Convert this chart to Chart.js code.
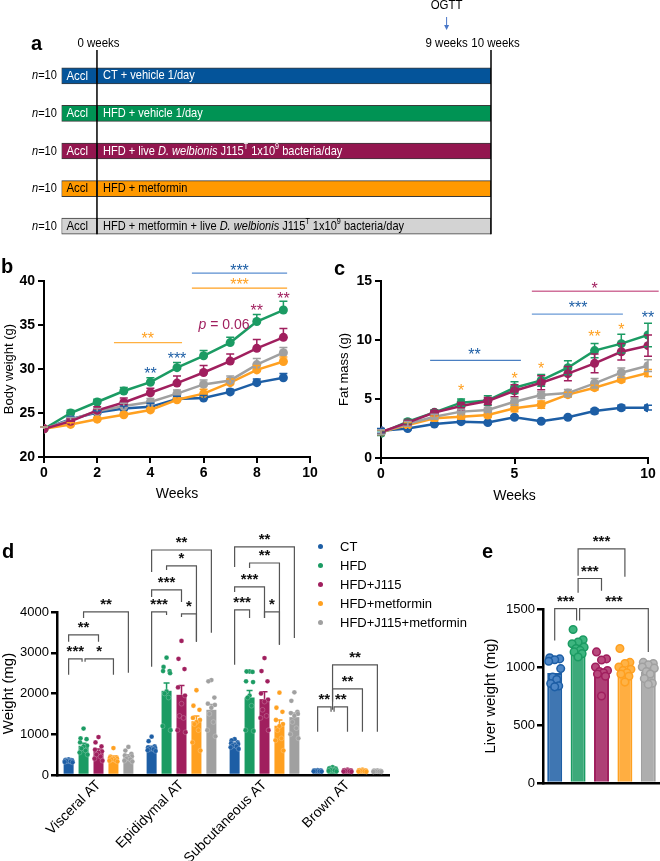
<!DOCTYPE html>
<html>
<head>
<meta charset="utf-8">
<script src="https://cdn.jsdelivr.net/npm/chart.js@4.4.1/dist/chart.umd.min.js"></script>
<style>
  body { margin:0; background:#fff; width:660px; height:861px; position:relative; overflow:hidden; font-family:'Liberation Sans', Arial, sans-serif; }
  canvas { position:absolute; }
  .plbl { position:absolute; font-weight:bold; font-size:20px; line-height:20px; }
  #legend { position:absolute; left:318px; top:537px; font-size:13px; }
  #legend div { height:19px; line-height:19px; white-space:nowrap; }
  #legend span { display:inline-block; width:5px; height:5px; border-radius:50%; margin-right:17px; vertical-align:middle; position:relative; top:-1px; }
</style>
</head>
<body>
<canvas id="chartA" width="660" height="245" style="left:0;top:0"></canvas>
<canvas id="chartB" width="330" height="260" style="left:0;top:250px"></canvas>
<canvas id="chartC" width="330" height="260" style="left:330px;top:250px"></canvas>
<canvas id="chartD" width="400" height="341" style="left:0;top:520px"></canvas>
<canvas id="chartE" width="180" height="341" style="left:480px;top:520px"></canvas>
<div class="plbl" style="left:31px;top:33px">a</div>
<div class="plbl" style="left:1px;top:256px">b</div>
<div class="plbl" style="left:334px;top:258px">c</div>
<div class="plbl" style="left:2px;top:541px">d</div>
<div class="plbl" style="left:482px;top:541px">e</div>
<div id="legend"></div>
<script>
// Data
// ========================================================================
var groups = ['CT', 'HFD', 'HFD+J115', 'HFD+metformin', 'HFD+J115+metformin'];

// panel a: study timeline (weeks)
var acclPeriod = [-0.9, 0];
var treatPeriod = [0, 10];
var ogttWeek = 9;
var rowText = [
  [['CT + vehicle 1/day', '']],
  [['HFD + vehicle 1/day', '']],
  [['HFD + live ', ''], ['D. welbionis', 'i'], [' J115', ''], ['T', 's'], [' 1x10', ''], ['9', 's'], [' bacteria/day', '']],
  [['HFD + metformin', '']],
  [['HFD + metformin + live ', ''], ['D. welbionis', 'i'], [' J115', ''], ['T', 's'], [' 1x10', ''], ['9', 's'], [' bacteria/day', '']]
];

// panel b: body weight (g)
var weeksBW = [0, 1, 2, 3, 4, 5, 6, 7, 8, 9];
var bwCT   = [23.2, 24.3, 25.05, 25.5, 25.7, 26.6, 26.7, 27.4, 28.45, 29.0];
var bwHFD  = [23.2, 25.0, 26.25, 27.5, 28.5, 30.15, 31.5, 33.0, 35.4, 36.7];
var bwJ115 = [23.2, 24.05, 25.3, 26.2, 27.3, 28.4, 29.6, 30.9, 32.35, 33.6];
var bwMet  = [23.2, 23.7, 24.3, 24.8, 25.35, 26.5, 27.2, 28.45, 29.9, 30.85];
var bwMix  = [23.2, 24.2, 25.2, 25.8, 26.25, 27.2, 28.25, 28.7, 30.5, 31.85];
var bwSemCT   = [0.2, 0.3, 0.2, 0.3, 0.4, 0.3, 0.3, 0.3, 0.4, 0.5];
var bwSemHFD  = [0.2, 0.3, 0.3, 0.4, 0.5, 0.6, 0.6, 0.6, 0.8, 1.0];
var bwSemJ115 = [0.2, 0.3, 0.4, 0.5, 0.5, 0.8, 0.8, 0.8, 1.0, 1.0];
var bwSemMet  = [0.2, 0.2, 0.2, 0.2, 0.2, 0.2, 0.5, 0.4, 0.5, 0.5];
var bwSemMix  = [0.2, 0.3, 0.3, 0.3, 0.4, 0.4, 0.5, 0.5, 0.7, 0.6];

// panel c: fat mass (g)
var weeksFM = [0, 1, 2, 3, 4, 5, 6, 7, 8, 9, 10];
var fmCT   = [2.3, 2.5, 2.88, 3.08, 3.0, 3.45, 3.11, 3.45, 3.98, 4.26, 4.26];
var fmHFD  = [2.1, 3.08, 3.87, 4.69, 4.88, 5.96, 6.58, 7.65, 9.1, 9.69, 10.42];
var fmJ115 = [2.2, 3.0, 3.85, 4.4, 4.83, 5.7, 6.38, 7.15, 8.02, 9.0, 9.52];
var fmMet  = [2.2, 2.8, 3.36, 3.5, 3.64, 4.21, 4.52, 5.37, 5.96, 6.64, 7.2];
var fmMix  = [2.2, 2.9, 3.5, 3.93, 4.07, 4.77, 5.34, 5.5, 6.33, 7.23, 7.82];
var fmSemCT   = [0.2, 0.1, 0.1, 0.1, 0.1, 0.1, 0.1, 0.1, 0.2, 0.2, 0.2];
var fmSemHFD  = [0.2, 0.2, 0.2, 0.3, 0.4, 0.5, 0.5, 0.6, 0.6, 0.8, 1.0];
var fmSemJ115 = [0.2, 0.2, 0.2, 0.3, 0.3, 0.5, 0.6, 0.6, 0.8, 0.7, 0.9];
var fmSemMet  = [0.2, 0.2, 0.2, 0.2, 0.2, 0.3, 0.3, 0.2, 0.2, 0.2, 0.3];
var fmSemMix  = [0.2, 0.2, 0.2, 0.2, 0.2, 0.3, 0.3, 0.3, 0.4, 0.4, 0.5];

// panel d: adipose tissue weight (mg)
var tissues = ['Visceral AT', 'Epididymal AT', 'Subcutaneous AT', 'Brown AT'];
var atCT   = [350, 670, 760, 100];
var atHFD  = [718, 2066, 1902, 130];
var atJ115 = [580, 1968, 1862, 105];
var atMet  = [430, 1320, 1210, 100];
var atMix  = [456, 1600, 1420, 95];
var atSemCT   = [10, 35, 25, 5];
var atSemHFD  = [60, 190, 170, 10];
var atSemJ115 = [55, 230, 180, 6];
var atSemMet  = [35, 130, 140, 6];
var atSemMix  = [40, 130, 100, 5];
var atPtsCT = [
  [380, 370, 365, 355, 350, 345, 340, 330, 320, 310],
  [940, 830, 700, 680, 660, 650, 640, 630, 610, 590],
  [880, 850, 800, 780, 760, 740, 720, 700, 680, 640],
  [120, 115, 110, 105, 100, 100, 95, 90, 90, 85]];
var atPtsHFD = [
  [1140, 900, 880, 800, 720, 700, 650, 600, 550, 500],
  [2880, 2650, 2550, 2550, 2500, 2050, 2000, 1900, 1200, 1100],
  [2540, 2540, 2530, 2300, 2280, 1950, 1900, 1700, 1100, 1080],
  [190, 170, 160, 150, 140, 130, 120, 110, 100, 90]];
var atPtsJ115 = [
  [930, 800, 700, 620, 580, 550, 500, 450, 400, 350],
  [3290, 2850, 2600, 2150, 1950, 1750, 1450, 1400, 1100, 1050],
  [2870, 2550, 2300, 2000, 1850, 1800, 1600, 1450, 1400, 1100],
  [130, 120, 115, 110, 105, 100, 95, 90, 85, 80]];
var atPtsMet = [
  [660, 450, 430, 420, 400, 400, 380, 360, 350, 330],
  [2080, 1700, 1600, 1400, 1350, 1300, 1250, 1100, 800, 600],
  [2020, 1650, 1550, 1350, 1250, 1200, 1100, 900, 850, 600],
  [130, 120, 115, 110, 100, 100, 95, 90, 85, 80]];
var atPtsMix = [
  [690, 600, 520, 480, 460, 430, 400, 380, 350, 330],
  [2330, 2300, 1900, 1750, 1720, 1650, 1500, 1300, 1100, 950],
  [2030, 1820, 1550, 1520, 1500, 1450, 1300, 1150, 1000, 900],
  [110, 105, 100, 100, 95, 90, 90, 85, 80, 80]];

// panel e: liver weight (mg)
var liverMean = [948, 1165, 985, 985, 960];
var liverCT   = [1080, 1070, 1063, 1050, 986, 914, 892, 858, 837, 829];
var liverHFD  = [1323, 1235, 1215, 1200, 1171, 1160, 1143, 1130, 1115, 1086];
var liverJ115 = [1130, 1070, 1060, 1000, 970, 960, 950, 940, 920, 750];
var liverMet  = [1160, 1040, 1030, 1000, 980, 970, 950, 940, 920, 870];
var liverMix  = [1040, 1030, 1020, 1000, 990, 960, 940, 900, 860, 850];

// Styles
// ========================================================================
var FONT = "'Liberation Sans', Arial, sans-serif";
var NARROW = 0.85; // horizontal squeeze for the condensed timeline text
var rowColors = ['#04549a', '#009354', '#93164f', '#ff9900', '#d3d3d3'];
var rowInk = ['#fff', '#fff', '#fff', '#000', '#000'];
var colors = ['#1d5ea5', '#1b9b63', '#a01f5e', '#ffa020', '#a0a0a0'];
var lightColors = ['#4d86c6', '#3db57f', '#b8487c', '#ffb347', '#b8b8b8'];
var jitD = [0, -3, 3, -3.5, 3.5, 0, -2, 2, -4, 4];
var jitE = [-5, 5, 0, -6, 6, -2, 2, -4, 4, 0];

Chart.defaults.font.family = FONT;
Chart.defaults.color = '#000';
Chart.defaults.animation = false;
Chart.defaults.responsive = false;
Chart.defaults.plugins.legend.display = false;
Chart.defaults.plugins.tooltip.enabled = false;

function plainNum(v) { return String(v); }

// draws text made of [string, style] segments; style '' normal, 'i' italic, 's' superscript
function richText(ctx, segs, x, y, size, color, align, squeeze) {
  var k = squeeze || 1;
  function fontOf(s) {
    var sz = s === 's' ? size * 0.65 : size;
    return (s === 'i' ? 'italic ' : '') + sz + 'px ' + FONT;
  }
  var w = 0;
  segs.forEach(function (s) { ctx.font = fontOf(s[1]); w += ctx.measureText(s[0]).width; });
  ctx.save();
  ctx.translate(align === 'center' ? x - w * k / 2 : x, y);
  ctx.scale(k, 1);
  ctx.fillStyle = color;
  ctx.textAlign = 'left';
  ctx.textBaseline = 'middle';
  var cx = 0;
  segs.forEach(function (s) {
    ctx.font = fontOf(s[1]);
    ctx.fillText(s[0], cx, s[1] === 's' ? -size * 0.33 : 0);
    cx += ctx.measureText(s[0]).width;
  });
  ctx.restore();
}

function drawStars(ctx, t, x, y, size, color, weight) {
  ctx.font = (weight || '') + ' ' + size + 'px ' + FONT;
  ctx.fillStyle = color;
  ctx.textAlign = 'center';
  ctx.textBaseline = 'middle';
  ctx.fillText(t, x, y + size * 0.22);
}

// Chart a: timeline
// ========================================================================
new Chart(document.getElementById('chartA'), {
  type: 'bar',
  data: {
    labels: groups,
    datasets: [{
      data: groups.map(function () { return acclPeriod; }),
      backgroundColor: rowColors, borderColor: '#3a3a3a', borderWidth: 1,
      borderSkipped: false, barThickness: 16, grouped: false
    }, {
      data: groups.map(function () { return treatPeriod; }),
      backgroundColor: rowColors, borderColor: '#3a3a3a', borderWidth: 1,
      borderSkipped: false, barThickness: 16, grouped: false
    }]
  },
  options: {
    indexAxis: 'y',
    layout: { padding: { left: 61.5, right: 169, top: 57, bottom: 0 } },
    scales: {
      x: { display: false, min: acclPeriod[0], max: treatPeriod[1] },
      y: { display: false }
    }
  },
  plugins: [{
    id: 'timeline',
    afterDatasetsDraw: function (chart) {
      var ctx = chart.ctx, xs = chart.scales.x, ys = chart.scales.y;
      var x0 = xs.getPixelForValue(treatPeriod[0]);
      var x10 = xs.getPixelForValue(treatPeriod[1]);
      var xa = xs.getPixelForValue(acclPeriod[0]);
      var xo = xs.getPixelForValue(ogttWeek) - 5;
      var bottom = ys.getPixelForValue(groups.length - 1) + 8;
      ctx.save();
      ctx.strokeStyle = '#000';
      ctx.lineWidth = 1.5;
      [x0, x10].forEach(function (x) {
        ctx.beginPath(); ctx.moveTo(x, 50); ctx.lineTo(x, bottom); ctx.stroke();
      });
      richText(ctx, [['0 weeks', '']], x0 + 1.5, 43, 13.5, '#000', 'center', NARROW);
      richText(ctx, [['9 weeks', '']], xo, 43, 13.5, '#000', 'center', NARROW);
      richText(ctx, [['10 weeks', '']], x10 + 4.5, 43, 13.5, '#000', 'center', NARROW);
      richText(ctx, [['OGTT', '']], xo, 5, 13.5, '#000', 'center', NARROW);
      // OGTT arrow
      ctx.strokeStyle = '#4a78c8'; ctx.fillStyle = '#4a78c8'; ctx.lineWidth = 1;
      ctx.beginPath(); ctx.moveTo(xo, 17); ctx.lineTo(xo, 27); ctx.stroke();
      ctx.beginPath(); ctx.moveTo(xo - 2.5, 25); ctx.lineTo(xo + 2.5, 25); ctx.lineTo(xo, 30); ctx.closePath(); ctx.fill();
      groups.forEach(function (g, i) {
        var y = ys.getPixelForValue(i);
        richText(ctx, [['n', 'i'], ['=10', '']], 32, y, 13, '#000', 'left', NARROW);
        richText(ctx, [['Accl', '']], (xa + x0) / 2 - 2, y, 13.5, rowInk[i], 'center', NARROW);
        richText(ctx, rowText[i], x0 + 6, y, 13, rowInk[i], 'left', NARROW);
      });
      ctx.restore();
    }
  }]
});

// Line chart helper (b, c)
// ========================================================================
function makeErrPlugin(sems, both) {
  return {
    id: 'err',
    afterDatasetsDraw: function (chart) {
      var ctx = chart.ctx, ys = chart.scales.y;
      ctx.save();
      ctx.lineWidth = 1.5;
      sems.forEach(function (sem, i) {
        var meta = chart.getDatasetMeta(i);
        ctx.strokeStyle = colors[i];
        meta.data.forEach(function (pt, j) {
          var v = chart.data.datasets[i].data[j].y;
          var yt = ys.getPixelForValue(v + sem[j]);
          var yb = both ? ys.getPixelForValue(v - sem[j]) : pt.y;
          ctx.beginPath();
          ctx.moveTo(pt.x, yb); ctx.lineTo(pt.x, yt);
          ctx.moveTo(pt.x - 4, yt); ctx.lineTo(pt.x + 4, yt);
          if (both) { ctx.moveTo(pt.x - 4, yb); ctx.lineTo(pt.x + 4, yb); }
          ctx.stroke();
        });
      });
      ctx.restore();
    }
  };
}

function makeSigPlugin(lines, texts, extra) {
  return {
    id: 'sig',
    afterDatasetsDraw: function (chart) {
      var ctx = chart.ctx, xs = chart.scales.x, ys = chart.scales.y;
      ctx.save();
      ctx.lineWidth = 1.3;
      lines.forEach(function (l) {
        ctx.strokeStyle = l[3];
        ctx.beginPath();
        ctx.moveTo(xs.getPixelForValue(l[0]), ys.getPixelForValue(l[2]));
        ctx.lineTo(xs.getPixelForValue(l[1]), ys.getPixelForValue(l[2]));
        ctx.stroke();
      });
      texts.forEach(function (t) {
        drawStars(ctx, t[2], xs.getPixelForValue(t[0]), ys.getPixelForValue(t[1]), 16, t[3]);
      });
      if (extra) extra(ctx, xs, ys);
      ctx.restore();
    }
  };
}

function lineChart(id, weeks, series, sems, cfg, sigPlugin) {
  var order = [4, 3, 0, 2, 1];
  return new Chart(document.getElementById(id), {
    type: 'line',
    data: {
      datasets: series.map(function (s, i) {
        return {
          label: groups[i],
          data: s.map(function (v, j) { return { x: weeks[j], y: v }; }),
          borderColor: colors[i], backgroundColor: colors[i],
          borderWidth: 2.5, pointRadius: 4.5, pointBorderWidth: 0,
          order: order[i], fill: false
        };
      })
    },
    options: {
      layout: { padding: { top: 31, right: cfg.right, left: 0, bottom: 0 } },
      scales: {
        x: {
          type: 'linear', min: 0, max: 10,
          afterFit: function (s) { s.height = cfg.xh; },
          border: { color: '#000', width: 2 },
          grid: { drawOnChartArea: false, color: '#000', lineWidth: 2, tickLength: 6 },
          ticks: { stepSize: cfg.xStep, padding: 2, font: { size: 14, weight: 'bold' } },
          title: { display: true, text: 'Weeks', font: { size: 14 }, padding: { top: 0, bottom: cfg.xtp } }
        },
        y: {
          min: cfg.yMin, max: cfg.yMax,
          afterFit: function (s) { s.width = cfg.yw; },
          border: { color: '#000', width: 2 },
          grid: { drawOnChartArea: false, color: '#000', lineWidth: 2, tickLength: 6 },
          ticks: { stepSize: 5, padding: 3, font: { size: 14, weight: 'bold' } },
          title: { display: true, text: cfg.yTitle, font: { size: 13 }, padding: { top: cfg.ytp, bottom: 0 } }
        }
      }
    },
    plugins: [makeErrPlugin(sems, cfg.both), sigPlugin]
  });
}

// Chart b: body weight
// ========================================================================
lineChart('chartB', weeksBW,
  [bwCT, bwHFD, bwJ115, bwMet, bwMix],
  [bwSemCT, bwSemHFD, bwSemJ115, bwSemMet, bwSemMix],
  { right: 20, xh: 53, yw: 44, xtp: 7, ytp: 2, yMin: 20, yMax: 40, xStep: 2, yTitle: 'Body weight (g)', both: false },
  makeSigPlugin(
    [[5.56, 9.14, 40.9, '#5a8ed0'], [5.56, 9.14, 39.2, '#ffa020'], [2.63, 5.19, 33.0, '#ffb040']],
    [[7.35, 41.5, '***', colors[0]], [7.35, 39.85, '***', colors[3]], [3.9, 33.7, '**', colors[3]],
     [4, 29.8, '**', colors[0]], [5, 31.5, '***', colors[0]],
     [8, 36.9, '**', colors[2]], [9, 38.3, '**', colors[2]]],
    function (ctx, xs, ys) {
      richText(ctx, [['p', 'i'], [' = 0.06', '']], xs.getPixelForValue(6.77), ys.getPixelForValue(35.0), 14, colors[2], 'center');
    })
);

// Chart c: fat mass
// ========================================================================
lineChart('chartC', weeksFM,
  [fmCT, fmHFD, fmJ115, fmMet, fmMix],
  [fmSemCT, fmSemHFD, fmSemJ115, fmSemMet, fmSemMix],
  { right: 12, xh: 52, yw: 51, xtp: 5, ytp: 7, yMin: 0, yMax: 15, xStep: 5, yTitle: 'Fat mass (g)', both: true },
  makeSigPlugin(
    [[5.65, 10.4, 14.13, '#d0709a'], [5.65, 9.06, 12.2, '#6a9ad6'], [1.84, 5.24, 8.28, '#4a7fc2']],
    [[8.0, 14.6, '*', colors[2]], [7.38, 13.0, '***', colors[0]], [10, 12.1, '**', colors[0]],
     [3.5, 9.0, '**', colors[0]],
     [3, 5.93, '*', colors[3]], [5, 6.95, '*', colors[3]], [6, 7.8, '*', colors[3]],
     [8, 10.5, '**', colors[3]], [9, 11.1, '*', colors[3]]])
);

// Chart d: adipose tissue
// ========================================================================
var atMeans = [atCT, atHFD, atJ115, atMet, atMix];
var atSems = [atSemCT, atSemHFD, atSemJ115, atSemMet, atSemMix];
var atPts = [atPtsCT, atPtsHFD, atPtsJ115, atPtsMet, atPtsMix];
// [tissue, bar a, bar b, top, leg a end, leg b end, label, offset a, offset b]
var dBrackets = [
  [0, 0, 1, 2850, 2458, 2777, '***', 0, -1.5],
  [0, 1, 3, 2850, 2777, 2458, '*', 1.5, 0],
  [0, 0, 2, 3439, 3267, 3267, '**'],
  [0, 1, 4, 4002, 3855, 2507, '**'],
  [1, 0, 4, 5522, 4983, 3488, '**'],
  [1, 1, 3, 5130, 5032, 3267, '*'],
  [1, 0, 2, 4542, 4370, 4248, '***'],
  [1, 0, 1, 4002, 2654, 3929, '***'],
  [1, 2, 3, 3953, 3880, 3267, '*'],
  [2, 0, 4, 5596, 5105, 3365, '**'],
  [2, 1, 3, 5203, 5081, 3194, '**'],
  [2, 0, 2, 4615, 4493, 3855, '***'],
  [2, 0, 1, 4051, 2703, 3855, '***'],
  [2, 2, 3, 4002, 3855, 3194, '*'],
  [3, 1, 4, 2703, 1797, 1061, '**'],
  [3, 1, 3, 2115, 1600, 1061, '**'],
  [3, 0, 1, 1674, 1061, 1551, '**', 0, -1.5],
  [3, 1, 2, 1674, 1551, 1061, '**', 1.5, 0]
];

function drawBracket(ctx, ys, xa, xb, b) {
  var yt = ys.getPixelForValue(b[0]);
  ctx.beginPath();
  ctx.moveTo(xa, ys.getPixelForValue(b[1]));
  ctx.lineTo(xa, yt);
  ctx.lineTo(xb, yt);
  ctx.lineTo(xb, ys.getPixelForValue(b[2]));
  ctx.stroke();
  drawStars(ctx, b[3], (xa + xb) / 2, yt - 10, 15, '#111', 'bold');
}

new Chart(document.getElementById('chartD'), {
  type: 'bar',
  data: {
    labels: tissues,
    datasets: atMeans.map(function (m, i) {
      return { label: groups[i], data: m, backgroundColor: colors[i], categoryPercentage: 0.9, barPercentage: 0.67 };
    })
  },
  options: {
    layout: { padding: { top: 92, right: 11, left: 0, bottom: 0 } },
    scales: {
      x: {
        afterFit: function (s) { s.height = 86; },
        border: { color: '#000', width: 2.5 },
        grid: { display: false, drawTicks: false, tickLength: 0 },
        ticks: { minRotation: 45, maxRotation: 45, padding: 2, font: { size: 14 } }
      },
      y: {
        min: 0, max: 4000,
        afterFit: function (s) { s.width = 57; },
        border: { color: '#000', width: 2.5 },
        grid: { drawOnChartArea: false, color: '#000', lineWidth: 2.5, tickLength: 6 },
        ticks: { stepSize: 1000, padding: 2, font: { size: 13 }, callback: plainNum },
        title: { display: true, text: 'Weight (mg)', font: { size: 15 }, padding: { top: 0, bottom: 0 } }
      }
    }
  },
  plugins: [{
    id: 'dExtras',
    afterDatasetsDraw: function (chart) {
      var ctx = chart.ctx, ys = chart.scales.y;
      ctx.save();
      atPts.forEach(function (grp, i) {
        var meta = chart.getDatasetMeta(i);
        grp.forEach(function (vals, j) {
          var bar = meta.data[j];
          var yt = ys.getPixelForValue(atMeans[i][j] + atSems[i][j]);
          ctx.strokeStyle = colors[i];
          ctx.lineWidth = 1.5;
          ctx.beginPath();
          ctx.moveTo(bar.x, bar.y); ctx.lineTo(bar.x, yt);
          ctx.moveTo(bar.x - 3, yt); ctx.lineTo(bar.x + 3, yt);
          ctx.stroke();
          vals.forEach(function (v, k) {
            ctx.beginPath();
            ctx.arc(bar.x + jitD[k], ys.getPixelForValue(v), 2.4, 0, 2 * Math.PI);
            ctx.fillStyle = colors[i];
            ctx.fill();
            ctx.strokeStyle = 'rgba(255,255,255,0.35)';
            ctx.lineWidth = 0.6;
            ctx.stroke();
          });
        });
      });
      ctx.strokeStyle = '#555';
      ctx.lineWidth = 1.2;
      dBrackets.forEach(function (b) {
        var xa = chart.getDatasetMeta(b[1]).data[b[0]].x + (b[7] || 0);
        var xb = chart.getDatasetMeta(b[2]).data[b[0]].x + (b[8] || 0);
        drawBracket(ctx, ys, xa, xb, [b[3], b[4], b[5], b[6]]);
      });
      ctx.restore();
    }
  }]
});

// Chart e: liver weight
// ========================================================================
var liverPts = [liverCT, liverHFD, liverJ115, liverMet, liverMix];
// [bar a, bar b, top, leg a end, leg b end, label, offset a, offset b]
var eBrackets = [
  [0, 1, 1503, 1229, 1400, '***', 0, -1.5],
  [1, 4, 1503, 1400, 1129, '***', 1.5, 0],
  [1, 2, 1763, 1641, 1658, '***'],
  [1, 3, 2018, 1786, 1778, '***']
];

new Chart(document.getElementById('chartE'), {
  type: 'bar',
  data: {
    labels: groups,
    datasets: [{
      data: liverMean,
      backgroundColor: colors.map(function (c) { return c + 'd9'; }),
      borderColor: colors, borderWidth: 2, borderSkipped: 'bottom',
      categoryPercentage: 1, barPercentage: 0.64
    }]
  },
  options: {
    layout: { padding: { top: 89, right: 0, left: 0, bottom: 0 } },
    scales: {
      x: {
        afterFit: function (s) { s.height = 78; },
        border: { color: '#000', width: 2.5 },
        grid: { display: false },
        ticks: { display: false }
      },
      y: {
        min: 0, max: 1500,
        afterFit: function (s) { s.width = 63; },
        border: { color: '#000', width: 2.5 },
        grid: { drawOnChartArea: false, color: '#000', lineWidth: 2.5, tickLength: 6 },
        ticks: { stepSize: 500, padding: 2, font: { size: 13 }, callback: plainNum },
        title: { display: true, text: 'Liver weight (mg)', font: { size: 15 }, padding: { top: 2, bottom: 0 } }
      }
    }
  },
  plugins: [{
    id: 'eExtras',
    afterDatasetsDraw: function (chart) {
      var ctx = chart.ctx, ys = chart.scales.y;
      var meta = chart.getDatasetMeta(0);
      ctx.save();
      liverPts.forEach(function (vals, i) {
        var bar = meta.data[i];
        vals.forEach(function (v, k) {
          ctx.beginPath();
          ctx.arc(bar.x + jitE[k], ys.getPixelForValue(v), 3.8, 0, 2 * Math.PI);
          ctx.fillStyle = lightColors[i];
          ctx.fill();
          ctx.strokeStyle = colors[i];
          ctx.lineWidth = 1.5;
          ctx.stroke();
        });
      });
      ctx.strokeStyle = '#555';
      ctx.lineWidth = 1.2;
      eBrackets.forEach(function (b) {
        var xa = meta.data[b[0]].x + (b[6] || 0);
        var xb = meta.data[b[1]].x + (b[7] || 0);
        drawBracket(ctx, ys, xa, xb, [b[2], b[3], b[4], b[5]]);
      });
      ctx.restore();
    }
  }]
});

// Legend (shared by d and e)
// ========================================================================
var legendEl = document.getElementById('legend');
groups.forEach(function (g, i) {
  var row = document.createElement('div');
  row.innerHTML = '<span style="background:' + colors[i] + '"></span>' + g;
  legendEl.appendChild(row);
});
</script>
</body>
</html>
